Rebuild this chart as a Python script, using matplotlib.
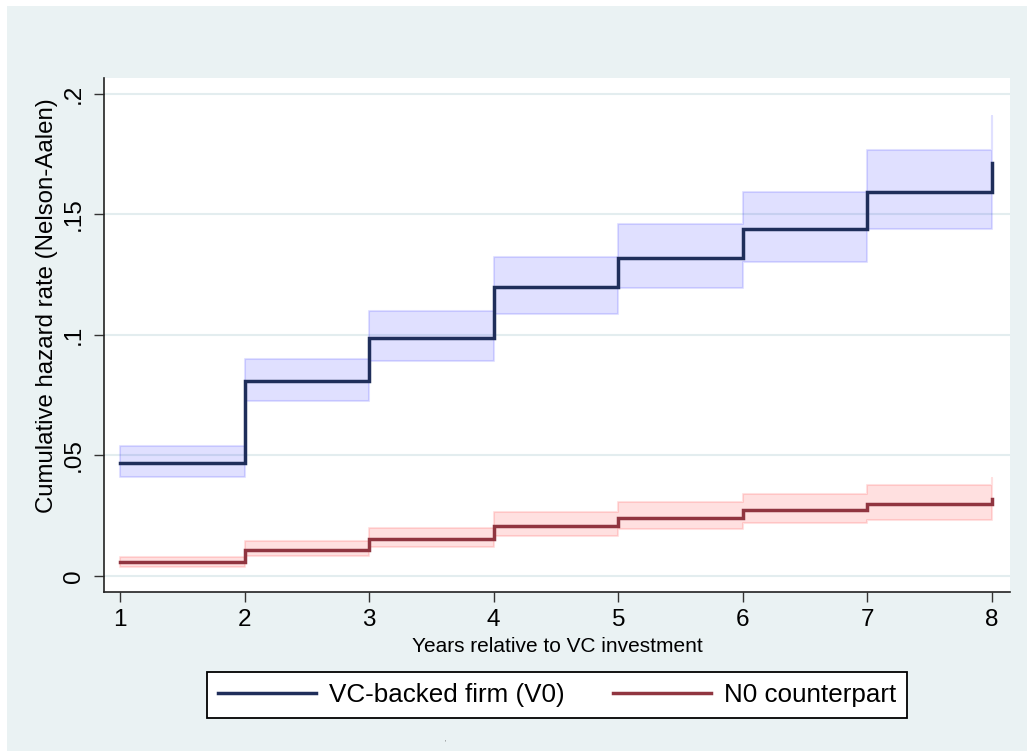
import matplotlib
matplotlib.use("Agg")
import matplotlib.pyplot as plt
from matplotlib.patches import Rectangle

# ---- data ----
years = [1, 2, 3, 4, 5, 6, 7, 8]
vc_hazard = [0.0470, 0.0807, 0.0988, 0.1199, 0.1320, 0.1439, 0.1595, 0.1713]
vc_upper = [0.0539, 0.0900, 0.1100, 0.1324, 0.1460, 0.1592, 0.1768, 0.1907]
vc_lower = [0.0410, 0.0724, 0.0892, 0.1085, 0.1196, 0.1303, 0.1439, 0.1520]
n0_hazard = [0.0056, 0.0108, 0.0154, 0.0208, 0.0240, 0.0272, 0.0299, 0.0320]
n0_upper = [0.0080, 0.0145, 0.0197, 0.0264, 0.0305, 0.0342, 0.0376, 0.0408]
n0_lower = [0.0039, 0.0083, 0.0121, 0.0167, 0.0195, 0.0220, 0.0233, 0.0245]
y_ticks = [0, 0.05, 0.1, 0.15, 0.2]
y_ticklabels = ["0", ".05", ".1", ".15", ".2"]
x_ticks = [1, 2, 3, 4, 5, 6, 7, 8]
series_labels = ["VC-backed firm (V0)", "N0 counterpart"]
x_title = "Years relative to VC investment"
y_title = "Cumulative hazard rate (Nelson-Aalen)"

plt.rcParams['font.family'] = ['Liberation Sans', 'DejaVu Sans']

W, H = 1027, 751
fig = plt.figure(figsize=(W / 100, H / 100), dpi=100, facecolor='white')
bg = '#EAF2F3'
fig.patches.append(Rectangle((7 / W, 0), 1 - 7 / W, 1 - 6 / H, transform=fig.transFigure,
                             facecolor=bg, edgecolor='none', zorder=-10))

ax = fig.add_axes([104 / W, 1 - 592 / H, (1010 - 104) / W, (592 - 78) / H])
ax.set_facecolor('white')

navy = '#1F2E5A'
maroon = '#903540'

ax.fill_between(years, vc_lower, vc_upper, step='post', facecolor=(0, 0, 1, 0.12),
                edgecolor=(0, 0, 1, 0.12), linewidth=1.5, zorder=2)
ax.fill_between(years, n0_lower, n0_upper, step='post', facecolor=(1, 0, 0, 0.12),
                edgecolor=(1, 0, 0, 0.12), linewidth=1.5, zorder=2)
l1, = ax.step(years, vc_hazard, where='post', color=navy, lw=2.5, zorder=3,
              solid_joinstyle='miter')
l2, = ax.step(years, n0_hazard, where='post', color=maroon, lw=2.5, zorder=3,
              solid_joinstyle='miter')

ax.set_xlim(0.872, 8.144)
ax.set_ylim(-0.00665, 0.2066)
ax.set_yticks(y_ticks)
ax.set_yticklabels(y_ticklabels)
ax.set_xticks(x_ticks)
ax.grid(axis='y', color='#E3EDEF', lw=1.5, zorder=1)
ax.set_axisbelow(True)

for s in ['top', 'right']:
    ax.spines[s].set_visible(False)
for s in ['left', 'bottom']:
    ax.spines[s].set_color('#222222')
    ax.spines[s].set_linewidth(1.2)

ax.tick_params(axis='both', direction='out', length=7.5, width=1.0, color='#333333',
               labelsize=17.5, pad=5)
ax.tick_params(axis='y', labelrotation=90, pad=6)
for lab in ax.get_yticklabels():
    lab.set_va('center')

ax.set_xlabel(x_title, fontsize=15, labelpad=0)
ax.xaxis.set_label_coords(0.5, -0.088)
ax.xaxis.label.set_va('top')
ax.set_ylabel(y_title, fontsize=17.3)
ax.yaxis.set_label_coords(-0.063, 0.557)
ax.yaxis.label.set_va('center')

leg = fig.legend([l1, l2], series_labels, loc='center', ncol=2,
                 bbox_to_anchor=(557 / W, 1 - 695 / H), fontsize=18.7,
                 frameon=True, fancybox=False, edgecolor='black',
                 handlelength=3.77, handletextpad=0.5, columnspacing=1.85,
                 borderpad=0.42, borderaxespad=0)
leg.get_frame().set_linewidth(1.3)
leg.get_frame().set_facecolor('white')
leg.get_frame().set_alpha(1)

fig.text(445 / W, 1 - 743 / H, "'", fontsize=5, color='#666666', ha='center', va='center')

fig.savefig('out.png', dpi=100, facecolor='white')
